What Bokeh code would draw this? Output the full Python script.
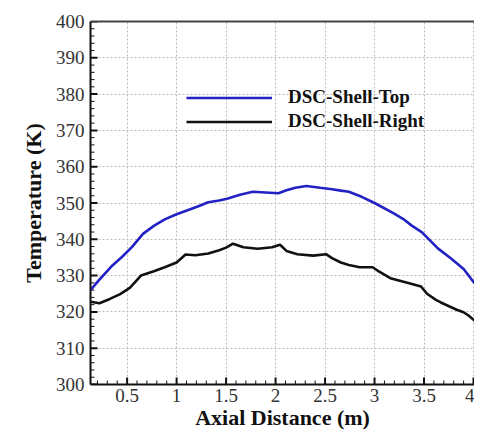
import numpy as np
from bokeh.plotting import figure
from bokeh.models import (Legend, LegendItem, LinearAxis, SingleIntervalTicker,
                          CustomJSTickFormatter, Range1d, ColumnDataSource,
                          FixedTicker, Grid)
from bokeh.embed import file_html
from bokeh.resources import INLINE

# Data
top_x = [0.13, 0.22, 0.34, 0.45, 0.55, 0.66, 0.77, 0.88, 1.0, 1.09, 1.22, 1.32,
         1.43, 1.51, 1.64, 1.77, 1.9, 2.03, 2.11, 2.2, 2.31, 2.45, 2.57, 2.66,
         2.74, 2.87, 3.0, 3.19, 3.3, 3.38, 3.48, 3.64, 3.77, 3.9, 4.01]
top_t = [326.0, 328.9, 332.5, 335.2, 337.9, 341.5, 343.7, 345.5, 346.9, 347.8,
         349.1, 350.2, 350.7, 351.2, 352.3, 353.1, 352.9, 352.7, 353.5, 354.2,
         354.7, 354.2, 353.8, 353.4, 353.1, 351.7, 350.0, 347.2, 345.4, 343.7,
         341.9, 337.5, 334.8, 331.8, 327.9]

right_x = [0.13, 0.22, 0.32, 0.43, 0.53, 0.64, 0.77, 0.88, 1.0, 1.09, 1.19, 1.32,
           1.43, 1.5, 1.57, 1.675, 1.82, 1.965, 2.045, 2.11, 2.22, 2.38, 2.51,
           2.57, 2.66, 2.74, 2.85, 2.98, 3.03, 3.16, 3.35, 3.47, 3.53, 3.62,
           3.67, 3.83, 3.9, 3.95, 4.01]
right_t = [322.8, 322.4, 323.5, 324.9, 326.7, 330.0, 331.2, 332.3, 333.6, 335.8,
           335.6, 336.1, 337.0, 337.7, 338.8, 337.8, 337.4, 337.8, 338.5, 336.8,
           335.9, 335.5, 335.9, 334.8, 333.6, 332.9, 332.3, 332.3, 331.4, 329.3,
           327.9, 327.0, 325.0, 323.3, 322.6, 320.6, 319.9, 319.0, 317.6]

series_names = ["DSC-Shell-Top", "DSC-Shell-Right"]
x_title = "Axial Distance (m)"
y_title = "Temperature (K)"

X_START, X_END = 0.13, 4.01
Y_START, Y_END = 300, 400
X_MAJOR, X_MINOR = 0.5, 0.1
Y_MAJOR, Y_MINOR = 10, 2

SERIF = "Liberation Serif"
W, H = 474, 432
B_LEFT, B_TOP, B_BOTTOM = 90, 21, 48

p = figure(width=W, height=H, output_backend="svg", toolbar_location=None,
           x_range=Range1d(X_START, X_END), y_range=Range1d(Y_START, Y_END),
           min_border_left=B_LEFT, min_border_right=0, min_border_top=B_TOP,
           min_border_bottom=B_BOTTOM, x_axis_type=None, y_axis_type=None)
p.outline_line_color = None
p.background_fill_color = "white"
p.border_fill_color = "white"

xticker = SingleIntervalTicker(interval=X_MAJOR, num_minor_ticks=5)
yticker = SingleIntervalTicker(interval=Y_MAJOR, num_minor_ticks=5)

xaxis = LinearAxis(ticker=xticker,
                   formatter=CustomJSTickFormatter(code="return tick.toString();"))
yaxis = LinearAxis(ticker=yticker)
for ax in (xaxis, yaxis):
    ax.axis_line_width = 2
    ax.axis_line_color = "#111111"
    ax.major_tick_line_color = None
    ax.minor_tick_line_color = None
    ax.major_tick_in = 0
    ax.major_tick_out = 0
    ax.minor_tick_in = 0
    ax.minor_tick_out = 0
    ax.major_label_text_font = SERIF
    ax.major_label_text_font_size = "19px"
    ax.major_label_text_color = "#333333"
    ax.axis_label_text_font = SERIF
    ax.axis_label_text_font_style = "bold"
    ax.axis_label_text_font_size = "22px"
    ax.axis_label_text_color = "#111111"
xaxis.axis_label = x_title
yaxis.axis_label = y_title
xaxis.major_label_standoff = 4
xaxis.axis_label_standoff = 0
yaxis.major_label_standoff = 6
yaxis.axis_label_standoff = 7
p.add_layout(xaxis, "below")
p.add_layout(yaxis, "left")

p.add_layout(Grid(dimension=0, axis=xaxis, grid_line_color="#bbbbbb",
                  grid_line_dash="2 2", grid_line_width=1))
p.add_layout(Grid(dimension=1, axis=yaxis, grid_line_color="#bbbbbb",
                  grid_line_dash="2 2", grid_line_width=1))

top_border = LinearAxis(ticker=FixedTicker(ticks=[]), major_tick_line_color=None,
                        minor_tick_line_color=None, major_label_standoff=0,
                        axis_line_width=2, axis_line_color="#444444")
p.add_layout(top_border, "above")

# inward-pointing tick marks, drawn inside the frame
frame_w = W - B_LEFT
frame_h = H - B_TOP - B_BOTTOM
x_per_px = (X_END - X_START) / frame_w
y_per_px = (Y_END - Y_START) / frame_h

x_all = np.round(np.arange(0.2, X_END, X_MINOR), 3)
x_maj = [v for v in x_all if abs(v / X_MAJOR - round(v / X_MAJOR)) < 1e-6]
x_min = [v for v in x_all if abs(v / X_MAJOR - round(v / X_MAJOR)) >= 1e-6]
y_all = np.arange(Y_START, Y_END + 1, Y_MINOR)
y_maj = [v for v in y_all if v % Y_MAJOR == 0]
y_min = [v for v in y_all if v % Y_MAJOR != 0]

for vals, length, width in ((x_maj, 7, 2), (x_min, 4, 1)):
    p.segment(x0=vals, y0=[Y_START] * len(vals), x1=vals,
              y1=[Y_START + length * y_per_px] * len(vals),
              line_color="#111111", line_width=width)
for vals, length, width in ((y_maj, 7, 2), (y_min, 4, 1)):
    p.segment(x0=[X_START] * len(vals), y0=vals,
              x1=[X_START + length * x_per_px] * len(vals), y1=vals,
              line_color="#111111", line_width=width)

src_top = ColumnDataSource(dict(x=top_x, y=top_t))
src_right = ColumnDataSource(dict(x=right_x, y=right_t))
r1 = p.line("x", "y", source=src_top, line_color="#2222c4", line_width=2.6)
r2 = p.line("x", "y", source=src_right, line_color="#111111", line_width=2.6)

legend = Legend(items=[LegendItem(label=series_names[0], renderers=[r1]),
                       LegendItem(label=series_names[1], renderers=[r2])],
                location=(96, 252), orientation="vertical",
                padding=0, margin=0, border_line_color=None,
                background_fill_alpha=0, glyph_width=86, glyph_height=21,
                label_height=21, spacing=2, label_standoff=16,
                label_text_font=SERIF, label_text_font_style="bold",
                label_text_font_size="19px", label_text_color="#111111")
p.add_layout(legend, "center")

open("out.html", "w").write(file_html(p, INLINE))
